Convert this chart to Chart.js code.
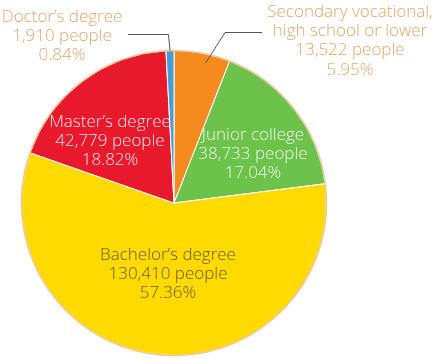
<!DOCTYPE html>
<html lang="en">
<head>
    <meta charset="UTF-8">
    <title>Degrees</title>
    <script src="https://cdn.jsdelivr.net/npm/chart.js"></script>
    <style>
        html, body { margin: 0; padding: 0; background: #fff; }
        #grafico { display: block; }
    </style>
</head>
<body>
<canvas id="grafico" width="434" height="359"></canvas>
<script>
    // data, clockwise from 12 o'clock
    const categories = ["Secondary vocational, high school or lower", "Junior college", "Bachelor’s degree", "Master’s degree", "Doctor’s degree"];
    const people = [13522, 38733, 130410, 42779, 1910];
    const shares = ["5.95%", "17.04%", "57.36%", "18.82%", "0.84%"];
    const colors = ["#f58a1f", "#6cc24a", "#ffda00", "#e8192c", "#4b9cd3"];

    // label text lines per slice
    const labelLines = [
        ["Secondary vocational,", "high school or lower"],
        ["Junior college"],
        ["Bachelor’s degree"],
        ["Master’s degree"],
        ["Doctor’s degree"]
    ];
    // where each label block sits: center x, first line y, colour
    const labelPos = [
        { x: 350, y: 12, color: "#e4a66a" },
        { x: 253, y: 135, color: "rgba(255,255,255,0.88)" },
        { x: 168, y: 255, color: "#6a5a1a" },
        { x: 110, y: 122, color: "rgba(255,255,255,0.88)" },
        { x: 62, y: 17, color: "#e4a66a" }
    ];
    const lineGap = 19.3;

    const fmt = n => n.toLocaleString("en-US");

    const outline = {
        id: "outline",
        afterDatasetsDraw(chart) {
            const c = chart.ctx;
            const arcs = chart.getDatasetMeta(0).data;
            c.save();
            c.strokeStyle = "#ecc99a";
            c.lineWidth = 1.6;
            arcs.forEach(a => {
                c.beginPath();
                c.arc(a.x, a.y, a.outerRadius, a.startAngle, a.endAngle);
                c.stroke();
            });

            // leader lines
            c.strokeStyle = "#555";
            c.lineWidth = 1;
            const doc = arcs[4];
            const dm = (doc.startAngle + doc.endAngle) / 2;
            c.beginPath();
            c.moveTo(doc.x + Math.cos(dm) * doc.outerRadius, doc.y + Math.sin(dm) * doc.outerRadius);
            c.lineTo(168.5, 34.5);
            c.lineTo(128, 34.5);
            c.stroke();

            const sec = arcs[0];
            const sm = (sec.startAngle + sec.endAngle) / 2 + 0.035;
            c.beginPath();
            c.moveTo(sec.x + Math.cos(sm) * sec.outerRadius * 0.94, sec.y + Math.sin(sm) * sec.outerRadius * 0.94);
            c.lineTo(225, 32.5);
            c.lineTo(262, 32.5);
            c.stroke();

            // labels
            c.font = "300 17px 'Open Sans', 'Liberation Sans', sans-serif";
            c.textAlign = "center";
            c.textBaseline = "middle";
            labelPos.forEach((p, i) => {
                const lines = labelLines[i].concat([fmt(people[i]) + " people", shares[i]]);
                c.fillStyle = p.color;
                lines.forEach((t, k) => c.fillText(t, p.x, p.y + k * lineGap));
            });
            c.restore();
        }
    };

    new Chart(document.getElementById("grafico").getContext("2d"), {
        type: "pie",
        data: {
            labels: categories,
            datasets: [{
                data: people,
                backgroundColor: colors,
                borderColor: "#ffffff",
                borderWidth: 1
            }]
        },
        options: {
            responsive: false,
            animation: false,
            rotation: 0,
            layout: { padding: { top: 50, bottom: 3, left: 21, right: 107 } },
            plugins: {
                legend: { display: false },
                tooltip: { enabled: false }
            }
        },
        plugins: [outline]
    });
</script>
</body>
</html>
